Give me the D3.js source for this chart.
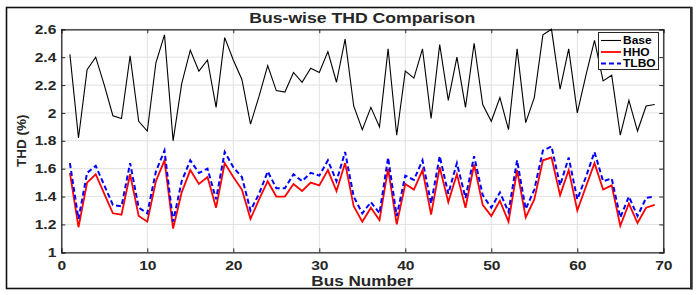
<!DOCTYPE html>
<html><head><meta charset="utf-8">
<script src="https://cdn.jsdelivr.net/npm/d3@7"></script>
<style>body{margin:0;background:#fff} svg{display:block}</style>
</head><body><svg id="c" width="698" height="295"></svg>
<script>
const buses = [1,2,3,4,5,6,7,8,9,10,11,12,13,14,15,16,17,18,19,20,21,22,23,24,25,26,27,28,29,30,31,32,33,34,35,36,37,38,39,40,41,42,43,44,45,46,47,48,49,50,51,52,53,54,55,56,57,58,59,60,61,62,63,64,65,66,67,68,69];
const baseTHD = [2.42,1.82,2.31,2.40,2.20,1.98,1.96,2.41,1.94,1.87, 2.36,2.56,1.80,2.21,2.45,2.30,2.38,2.04,2.54,2.38, 2.24,1.92,2.12,2.34,2.16,2.15,2.29,2.22,2.32,2.29, 2.44,2.22,2.53,2.05,1.88,2.04,1.90,2.46,1.84,2.30, 2.25,2.46,1.96,2.49,2.09,2.40,2.04,2.50,2.06,1.94, 2.11,1.88,2.46,1.93,2.11,2.56,2.60,2.17,2.46,2.00, 2.27,2.52,2.23,2.27,1.84,2.09,1.87,2.05,2.06];
const hhoTHD = [1.57,1.18,1.50,1.56,1.42,1.28,1.27,1.56,1.26,1.22, 1.51,1.66,1.17,1.43,1.59,1.49,1.54,1.32,1.64,1.54, 1.45,1.24,1.38,1.51,1.40,1.40,1.49,1.44,1.50,1.48, 1.59,1.44,1.64,1.33,1.22,1.32,1.23,1.60,1.20,1.49, 1.45,1.59,1.27,1.61,1.36,1.56,1.32,1.63,1.34,1.26, 1.37,1.22,1.59,1.25,1.38,1.66,1.68,1.41,1.59,1.30, 1.47,1.64,1.45,1.48,1.19,1.35,1.21,1.32,1.34];
const tlboTHD = [1.64,1.24,1.57,1.62,1.48,1.34,1.33,1.64,1.32,1.28, 1.58,1.73,1.22,1.51,1.66,1.57,1.60,1.38,1.72,1.61, 1.54,1.30,1.42,1.58,1.46,1.46,1.56,1.51,1.57,1.55, 1.66,1.51,1.72,1.40,1.28,1.36,1.28,1.68,1.26,1.55, 1.52,1.66,1.35,1.69,1.42,1.64,1.39,1.69,1.41,1.32, 1.43,1.29,1.66,1.31,1.45,1.73,1.76,1.48,1.68,1.38, 1.54,1.72,1.51,1.53,1.25,1.40,1.26,1.39,1.40];
const xTicks = [0,10,20,30,40,50,60,70];
const yTicks = [1,1.2,1.4,1.6,1.8,2,2.2,2.4,2.6];
const seriesNames = ["Base","HHO","TLBO"];
const titleText = "Bus-wise THD Comparison";
const xLabelText = "Bus Number";
const yLabelText = "THD (%)";

const SX = 1.2;
const FONT = "'Liberation Sans', Arial, Helvetica, sans-serif";
const svg = d3.select("#c");
const L = 61.3, R = 663.3, T = 29.3, B = 252.3;
const x = d3.scaleLinear().domain([0,70]).range([L,R]);
const y = d3.scaleLinear().domain([1,2.6]).range([B,T]);

// outer frame
svg.append("rect").attr("x",6.5).attr("y",7.5).attr("width",684.5).attr("height",281)
  .attr("fill","none").attr("stroke","#111").attr("stroke-width",1.6);
svg.append("line").attr("x1",691.5).attr("x2",691.5).attr("y1",7).attr("y2",289.5)
  .attr("stroke","#333").attr("stroke-width",2.5);

// grid
const g = svg.append("g");
g.selectAll(".gx").data(xTicks).enter().append("line")
  .attr("x1",d=>x(d)).attr("x2",d=>x(d)).attr("y1",T).attr("y2",B)
  .attr("stroke","#dedede").attr("stroke-width",0.9);
g.selectAll(".gy").data(yTicks).enter().append("line")
  .attr("x1",L).attr("x2",R).attr("y1",d=>y(d)).attr("y2",d=>y(d))
  .attr("stroke","#dedede").attr("stroke-width",0.9);

// axes
const axB = svg.append("g").attr("transform",`translate(0,${B})`)
  .call(d3.axisBottom(x).tickValues(xTicks).tickSize(-4).tickPadding(8).tickFormat(d3.format("d")));
const axL = svg.append("g").attr("transform",`translate(${L},0)`)
  .call(d3.axisLeft(y).tickValues(yTicks).tickSize(-4).tickPadding(5).tickFormat(d3.format("~g")));
const axT = svg.append("g").attr("transform",`translate(0,${T})`)
  .call(d3.axisTop(x).tickValues(xTicks).tickSize(-4).tickFormat(""));
const axR = svg.append("g").attr("transform",`translate(${R},0)`)
  .call(d3.axisRight(y).tickValues(yTicks).tickSize(-4).tickFormat(""));
[axB,axL,axT,axR].forEach(a=>{
  a.select(".domain").attr("stroke","#262626").attr("stroke-width",1.3);
  a.selectAll(".tick line").attr("stroke","#262626").attr("stroke-width",1);
});
axB.selectAll(".tick text").each(function(){
  d3.select(this).attr("font-family",FONT).attr("font-weight","bold").attr("font-size",13)
   .attr("fill","#262626").attr("transform",`scale(${SX},1)`);
});
axL.selectAll(".tick text").each(function(){
  const t = d3.select(this);
  const xv = +t.attr("x");
  t.attr("x", xv/SX).attr("font-family",FONT).attr("font-weight","bold").attr("font-size",13)
   .attr("fill","#262626").attr("transform",`scale(${SX},1)`);
});

function label(txt, cx, cy, size, anchor){
  svg.append("g").attr("transform",`translate(${cx},${cy}) scale(${SX},1)`)
    .append("text").attr("text-anchor",anchor||"middle").attr("font-family",FONT)
    .attr("font-weight","bold").attr("font-size",size).attr("fill","#262626").text(txt);
}
label(titleText, (L+R)/2, 23, 14.7);
label(xLabelText, (L+R)/2, 285.5, 14.3);
svg.append("text").attr("transform",`translate(26,${(T+B)/2}) rotate(-90)`)
  .attr("text-anchor","middle").attr("font-family",FONT).attr("font-weight","bold")
  .attr("font-size",13.5).attr("fill","#262626").text(yLabelText);

// lines
const line = d3.line().x((d,i)=>x(buses[i])).y(d=>y(d));
const pg = svg.append("g");
pg.append("path").datum(baseTHD).attr("d",line).attr("fill","none").attr("stroke","#000").attr("stroke-width",1.1);
pg.append("path").datum(hhoTHD).attr("d",line).attr("fill","none").attr("stroke","#ff0000").attr("stroke-width",1.8);
pg.append("path").datum(tlboTHD).attr("d",line).attr("fill","none").attr("stroke","#0000ff").attr("stroke-width",2).attr("stroke-dasharray","5,3");

// legend
const lg = svg.append("g");
lg.append("rect").attr("x",598.5).attr("y",32.5).attr("width",60).attr("height",37)
  .attr("fill","#fff").attr("stroke","#262626").attr("stroke-width",1);
const colors = ["#000","#ff0000","#0000ff"];
const widths = [1.1,1.8,2];
const dashes = [null,null,"5,3"];
seriesNames.forEach((n,i)=>{
  const yy = 40.5 + i*11.5;
  lg.append("line").attr("x1",601).attr("x2",621).attr("y1",yy).attr("y2",yy)
    .attr("stroke",colors[i]).attr("stroke-width",widths[i]).attr("stroke-dasharray",dashes[i]);
  lg.append("g").attr("transform",`translate(623,${yy+3.6}) scale(${SX},1)`)
    .append("text").attr("font-family",FONT).attr("font-weight","bold").attr("font-size",10)
    .attr("fill","#000").text(n);
});
</script></body></html>
